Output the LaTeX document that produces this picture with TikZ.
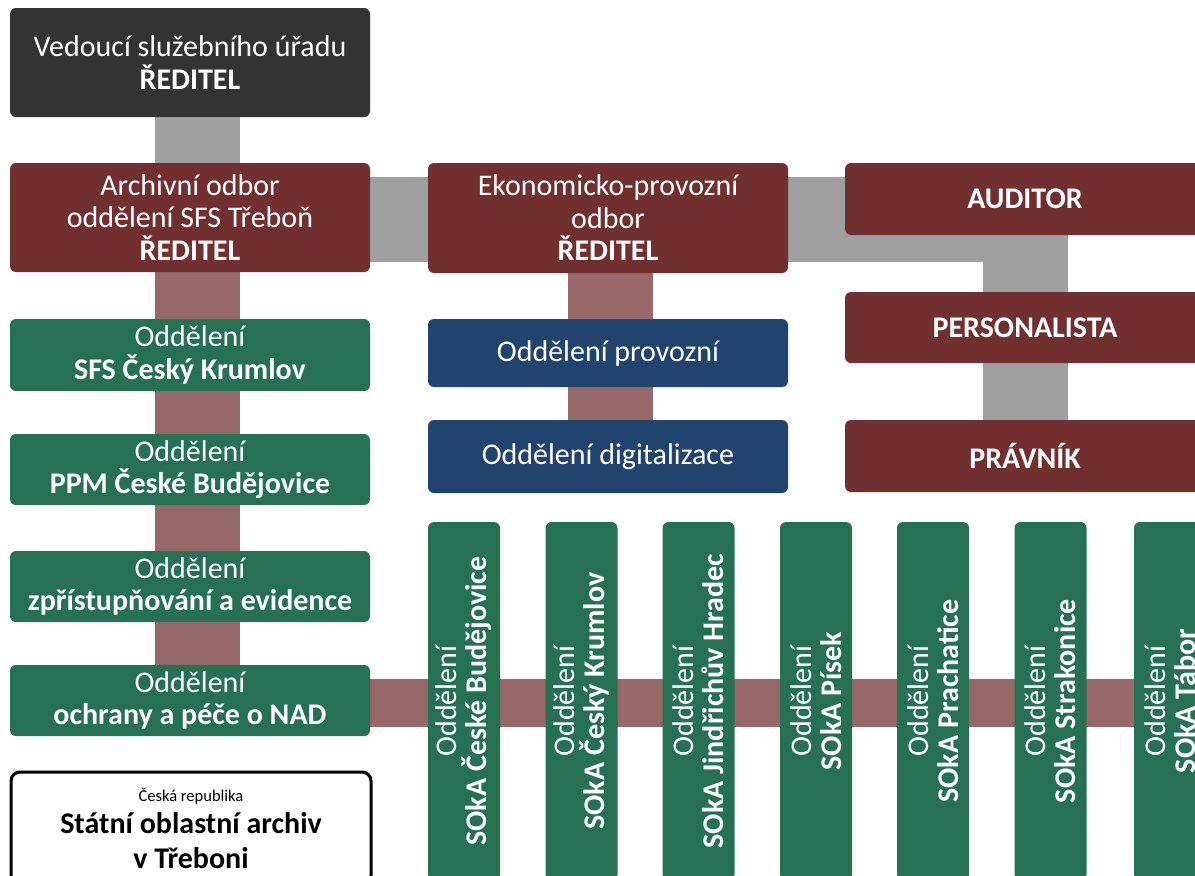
\documentclass[tikz,border=0pt]{standalone}
\usepackage{fontspec}
\setmainfont{Carlito}
\usetikzlibrary{calc}
\pgfdeclarelayer{background}
\pgfsetlayers{background,main}
\definecolor{cDark}{RGB}{51,51,51}
\definecolor{cBrown}{RGB}{114,47,48}
\definecolor{cRose}{RGB}{150,104,104}
\definecolor{cGray}{RGB}{160,160,160}
\definecolor{cGreen}{RGB}{38,112,84}
\definecolor{cBlue}{RGB}{33,68,110}
\tikzset{
  box/.style={rounded corners=6pt, inner sep=0pt, text=white, align=center,
    minimum width=360pt, font=\fontsize{30}{32.5}\selectfont},
  vbox/.style={rounded corners=6pt, inner sep=0pt, text=white, align=center,
    fill=cGreen, rotate=90, minimum width=358pt, minimum height=72pt,
    font=\fontsize{30}{30}\selectfont},
  grayline/.style={draw=cGray, line width=85pt},
  roseline/.style={draw=cRose, line width=85pt},
}
\begin{document}
\begin{tikzpicture}[x=1pt,y=-1pt]
\useasboundingbox (0,0) rectangle (1195,876);
% top
\node[box, fill=cDark, minimum height=109pt] (top) at (190,62.5) {Vedoucí služebního úřadu\\\textbf{ŘEDITEL}};
\node[box, fill=cBrown, minimum height=109pt] (archiv) at (190,217.5) {Archivní odbor\\oddělení SFS Třeboň\\\textbf{ŘEDITEL}};
\node[box, fill=cBrown, minimum height=110pt] (ekon) at (608,218) {Ekonomicko-provozní\\odbor\\\textbf{ŘEDITEL}};
\node[box, fill=cBrown, minimum height=72pt] (auditor) at (1025,199) {\textbf{AUDITOR}};
\node[box, fill=cBrown, minimum height=71pt] (person) at (1025,327.5) {\textbf{PERSONALISTA}};
\node[box, fill=cBrown, minimum height=72pt] (pravnik) at (1025,456) {\textbf{PRÁVNÍK}};
\node[box, fill=cBlue, minimum height=68pt] (provoz) at (608,353) {Oddělení provozní};
\node[box, fill=cBlue, minimum height=73pt] (digit) at (608,456.5) {Oddělení digitalizace};
% left green
\node[box, fill=cGreen, minimum height=72pt] (krumlov) at (190,355) {Oddělení\\\textbf{SFS Český Krumlov}};
\node[box, fill=cGreen, minimum height=71pt] (ppm) at (190,469.5) {Oddělení\\\textbf{PPM České Budějovice}};
\node[box, fill=cGreen, minimum height=71pt] (zpr) at (190,586.5) {Oddělení\\\textbf{zpřístupňování a evidence}};
\node[box, fill=cGreen, minimum height=71pt] (ochr) at (190,700.5) {Oddělení\\\textbf{ochrany a péče o NAD}};
% SOkA
\node[vbox] (s1) at (464,701) {Oddělení\\\textbf{SOkA České Budějovice}};
\node[vbox] (s2) at (581.5,701) {Oddělení\\\textbf{SOkA Český Krumlov}};
\node[vbox] (s3) at (698.5,701) {Oddělení\\\textbf{SOkA Jindřichův Hradec}};
\node[vbox] (s4) at (816,701) {Oddělení\\\textbf{SOkA Písek}};
\node[vbox] (s5) at (933,701) {Oddělení\\\textbf{SOkA Prachatice}};
\node[vbox] (s6) at (1050.5,701) {Oddělení\\\textbf{SOkA Strakonice}};
\node[vbox] (s7) at (1170,701) {Oddělení\\\textbf{SOkA Tábor}};
% legend
\node[draw=black, line width=3pt, rounded corners=9pt, fill=white, inner sep=0pt,
  minimum width=360pt, minimum height=112pt, align=center,
  font=\fontsize{30}{35}\selectfont] (legend) at (191,828)
  {{\fontsize{16.5}{20}\selectfont Česká republika}\\[-3pt]\textbf{Státní oblastní archiv}\\\textbf{v Třeboni}};
% connectors
\begin{pgfonlayer}{background}
\draw[grayline] ([xshift=7.5pt]top.south) -- ([xshift=7.5pt]archiv.north);
\draw[grayline] ([yshift=-2pt]archiv.east) -- ([yshift=-2pt]archiv.east -| pravnik.north) -- (pravnik.north);
\draw[roseline] ([xshift=7.5pt]archiv.south) -- ([xshift=7.5pt]ochr.north);
\draw[roseline] ([xshift=2pt]ekon.south) -- ([xshift=2pt]digit.north);
\draw[draw=cRose, line width=48pt] ([yshift=-2.5pt]ochr.east) -- ([yshift=-2.5pt]ochr.east -| s7.center);
\end{pgfonlayer}
\end{tikzpicture}
\end{document}
